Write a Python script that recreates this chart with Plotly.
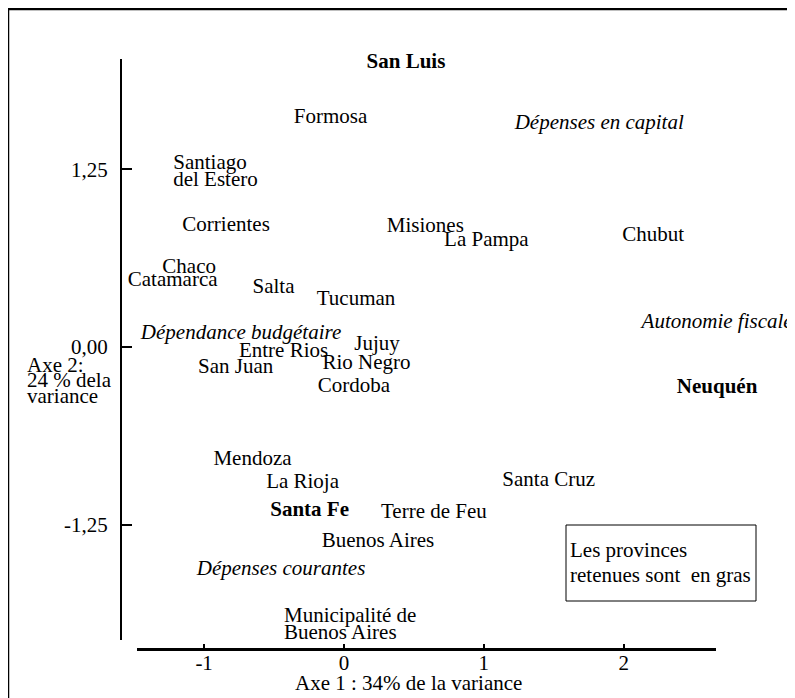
import plotly.graph_objects as go

# ---------------- data ----------------
provinces = ["San Luis", "Formosa", "Santiago<br>del Estero", "Corrientes", "Misiones",
             "La Pampa", "Chubut", "Chaco", "Catamarca", "Salta", "Tucuman", "Jujuy",
             "Entre Rios", "San Juan", "Rio Negro", "Cordoba", "Neuquén", "Mendoza",
             "La Rioja", "Santa Cruz", "Santa Fe", "Terre de Feu", "Buenos Aires",
             "Municipalité de<br>Buenos Aires"]
axe1 = [0.443, -0.096, -1.221, -0.843, 0.582, 1.018, 2.211, -1.107, -1.225, -0.504, 0.086,
        0.236, -0.432, -0.775, 0.161, 0.071, 2.668, -0.654, -0.296, 1.464, -0.246, 0.643,
        0.243, -0.429]
axe2 = [2.000, 1.613, 1.289, 0.852, 0.845, 0.747, 0.782, 0.556, 0.465, 0.416, 0.331, 0.014,
        -0.035, -0.148, -0.120, -0.278, -0.289, -0.796, -0.958, -0.944, -1.155, -1.169,
        -1.373, -1.901]
retenues = ["San Luis", "Neuquén", "Santa Fe"]

variables = ["Dépenses en capital", "Autonomie fiscale", "Dépendance budgétaire",
             "Dépenses courantes"]
var_axe1 = [1.825, 2.668, -0.736, -0.450]
var_axe2 = [1.571, 0.169, 0.092, -1.570]

x_ticks = [-1, 0, 1, 2]
x_ticktext = ["-1", "0", "1", "2"]
y_ticks = [-1.25, 0, 1.25]
y_ticktext = ["-1,25", "0,00", "1,25"]

x_title = "Axe 1 : 34% de la variance"
y_title_lines = ["Axe 2:", "24 % dela", "variance"]
note_lines = ["Les provinces", "retenues sont\u00a0 en gras"]

# ---------------- layout constants ----------------
OFF = 8  # page body margin offset of the figure
W, H = 795 - OFF, 698 - OFF
FONT = "Liberation Serif, Times New Roman, serif"
FS = 21
XR = [-1.48, 2.66]
YR = [-2.063, 2.028]


def px(x):
    return (x - OFF) / W


def py(y):
    return 1 - (y - OFF) / H


XDOM = [px(137), px(716)]
YDOM = [py(640), py(59)]

# overlay axes spanning the whole figure with the very same scale,
# so labels lying beyond the drawn axis lines are still placed by the library
kx = (XR[1] - XR[0]) / ((XDOM[1] - XDOM[0]) * W)
ky = (YR[1] - YR[0]) / ((YDOM[1] - YDOM[0]) * H)
XR2 = [XR[0] - XDOM[0] * W * kx, XR[1] + (1 - XDOM[1]) * W * kx]
YR2 = [YR[0] - YDOM[0] * H * ky, YR[1] + (1 - YDOM[1]) * H * ky]

LINE_GAP_PX = 16.5

# split multi-line labels into single lines with tight spacing
tx, ty, tt, tp = [], [], [], []
for name, x, y in zip(provinces, axe1, axe2):
    lines = name.split("<br>")
    for i, ln in enumerate(lines):
        tx.append(x)
        ty.append(y - i * LINE_GAP_PX * ky)
        tt.append(f"<b>{ln}</b>" if name in retenues else ln)
        tp.append("middle right" if len(lines) > 1 else "middle center")

fig = go.Figure()
# empty trace so that the drawn axes (x, y) are rendered
fig.add_trace(go.Scatter(x=[], y=[], mode="markers", hoverinfo="skip", showlegend=False))
fig.add_trace(go.Scatter(x=tx, y=ty, text=tt, mode="text", textposition=tp,
                         xaxis="x2", yaxis="y2",
                         textfont=dict(family=FONT, size=FS, color="#000"),
                         cliponaxis=False, hoverinfo="skip", showlegend=False))
fig.add_trace(go.Scatter(x=var_axe1, y=var_axe2, text=[f"<i>{v}</i>" for v in variables],
                         mode="text", textposition="middle center",
                         xaxis="x2", yaxis="y2",
                         textfont=dict(family=FONT, size=FS, color="#000"),
                         cliponaxis=False, hoverinfo="skip", showlegend=False))

annotations = [dict(text=x_title, x=px(408.5), y=py(683), xref="paper", yref="paper",
                    showarrow=False, xanchor="center", yanchor="middle",
                    font=dict(family=FONT, size=FS, color="#000"))]
for i, ln in enumerate(y_title_lines):
    annotations.append(dict(text=ln, x=px(25), y=py(365 + i * 15.5),
                            xref="paper", yref="paper", showarrow=False,
                            xanchor="left", yanchor="middle",
                            font=dict(family=FONT, size=FS, color="#000")))
for i, ln in enumerate(note_lines):
    annotations.append(dict(text=ln, x=px(568), y=py(550 + i * 25),
                            xref="paper", yref="paper", showarrow=False,
                            xanchor="left", yanchor="middle",
                            font=dict(family=FONT, size=FS, color="#000")))

shapes = [
    dict(type="line", xref="paper", yref="paper", x0=px(8), x1=1, y0=py(9), y1=py(9),
         line=dict(color="#000", width=2.5)),
    dict(type="line", xref="paper", yref="paper", x0=px(8), x1=px(8), y0=py(9), y1=0,
         line=dict(color="#000", width=2.5)),
    dict(type="rect", xref="paper", yref="paper", x0=px(566), x1=px(756),
         y0=py(601), y1=py(525), line=dict(color="#000", width=1)),
]

fig.update_layout(
    width=W, height=H, margin=dict(l=0, r=0, t=0, b=0),
    paper_bgcolor="white", plot_bgcolor="rgba(0,0,0,0)",
    annotations=annotations, shapes=shapes,
    xaxis=dict(domain=XDOM, range=XR, anchor="free", position=py(649),
               showline=True, linecolor="#000", linewidth=3,
               showgrid=False, zeroline=False, tickvals=x_ticks, ticktext=x_ticktext,
               ticks="inside", ticklen=4, tickwidth=2, tickcolor="#000",
               ticklabelstandoff=-6,
               tickfont=dict(family=FONT, size=FS, color="#000")),
    yaxis=dict(domain=YDOM, range=YR, anchor="free", position=px(121),
               showline=True, linecolor="#000", linewidth=2,
               showgrid=False, zeroline=False, tickvals=y_ticks, ticktext=y_ticktext,
               ticks="inside", ticklen=10, tickwidth=2, tickcolor="#000",
               ticklabelstandoff=8,
               tickfont=dict(family=FONT, size=FS, color="#000")),
    xaxis2=dict(domain=[0, 1], range=XR2, anchor="y2", visible=False, fixedrange=True),
    yaxis2=dict(domain=[0, 1], range=YR2, anchor="x2", visible=False, fixedrange=True),
)

# hide page scrollbars so the full figure width stays visible
fig.write_html("out.html",
               post_script="document.documentElement.style.overflow='hidden';"
                           "document.body.style.overflow='hidden';")
